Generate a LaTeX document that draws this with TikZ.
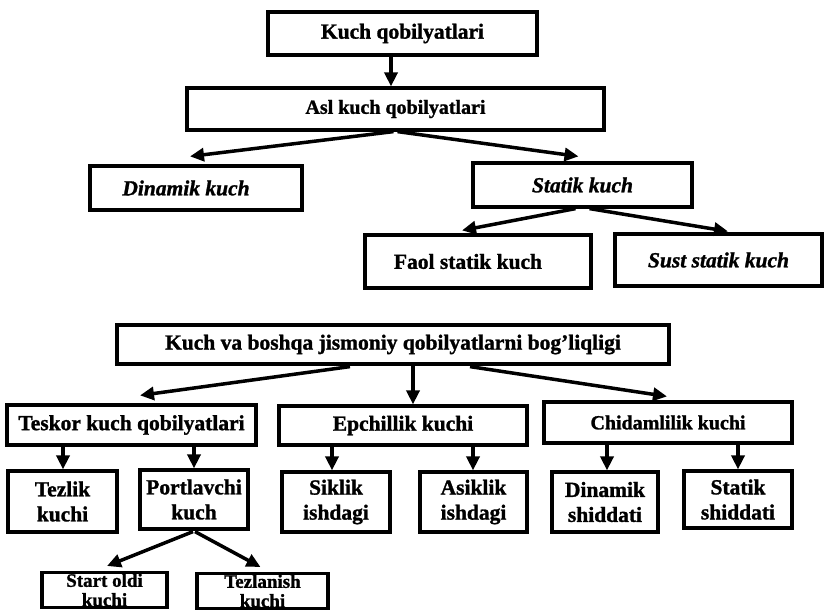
\documentclass[tikz,border=0pt]{standalone}
\usepackage{fontspec}
\setmainfont{Liberation Serif}[BoldFeatures={FakeBold=1.3},BoldItalicFeatures={FakeBold=1.3}]
\usetikzlibrary{arrows.meta,calc}
\tikzset{
  box/.style={draw, line width=3.2pt, inner sep=0pt, align=center,
    font=\fontsize{21.5}{25}\selectfont\bfseries},
  ibox/.style={box, font=\fontsize{21.5}{25}\selectfont\bfseries\itshape},
  dbox/.style={box, anchor=north, inner ysep=1pt, font=\fontsize{19}{19.5}\selectfont\bfseries},
  arr/.style={line width=3.5pt, -{Triangle[length=14pt,width=13pt]}}
}
\begin{document}
\begin{tikzpicture}[x=1pt,y=-1pt]
\useasboundingbox (0,0) rectangle (826,610);
\fill[white] (0,0) rectangle (826,610);
\clip (0,0) rectangle (826,610);
% top section
\node[box, minimum width=269, minimum height=43] (k1) at (402.5,33.5) {Kuch qobilyatlari};
\node[box, minimum width=417, minimum height=42, font=\fontsize{20}{24}\selectfont\bfseries] (k2) at (395.5,109) {Asl kuch qobilyatlari};
\node[ibox, minimum width=212, minimum height=44] (k3) at (196,188) {\hspace*{-20pt}Dinamik kuch};
\node[ibox, minimum width=219, minimum height=44] (k4) at (582.5,185) {Statik kuch};
\node[box, minimum width=226, minimum height=53] (k5) at (478,261.5) {\hspace*{-20pt}Faol statik kuch};
\node[ibox, minimum width=207, minimum height=52] (k6) at (718.5,260) {Sust statik kuch};
% bottom section
\node[box, minimum width=552, minimum height=39] (b1) at (393,344.5) {Kuch va boshqa jismoniy qobilyatlarni bog'liqligi};
\node[box, minimum width=249, minimum height=40] (b2) at (131.5,425) {Teskor kuch qobilyatlari};
\node[box, minimum width=248, minimum height=39] (b3) at (403,425.5) {Epchillik kuchi};
\node[box, minimum width=248, minimum height=41, font=\fontsize{20}{24}\selectfont\bfseries] (b4) at (668,422.5) {Chidamlilik kuchi};
\node[box, minimum width=109, minimum height=61] (c1) at (62.5,501.5) {Tezlik\\kuchi};
\node[box, minimum width=108, minimum height=59] (c2) at (194,499.5) {Portlavchi\\kuch};
\node[box, minimum width=108, minimum height=60] (c3) at (336,502) {Siklik\\ishdagi};
\node[box, minimum width=107, minimum height=60] (c4) at (473.5,502) {Asiklik\\ishdagi};
\node[box, minimum width=106, minimum height=60] (c5) at (605,502) {Dinamik\\shiddati};
\node[box, minimum width=108, minimum height=57] (c6) at (738,499.5) {Statik\\shiddati};
\node[dbox, minimum width=125] (d1) at (104.5,571) {Start oldi\\kuchi};
\node[dbox, minimum width=131] (d2) at (262.5,572) {Tezlanish\\kuchi};
% arrows top
\draw[arr] ($(k1.south)+(-11.5,0)$) -- ($(k2.north)+(-4.5,0)$);
\draw[arr] ($(k2.south)+(-2,0)$) -- ($(k3.north)+(-6,-8)$);
\draw[arr] ($(k2.south)+(2,0)$) -- ($(k4.north)+(-4,-5)$);
\draw[arr] ($(k4.south)+(-7,0)$) -- ($(k5.north)+(-16,-3)$);
\draw[arr] ($(k4.south)+(7,0)$) -- ($(k6.north)+(9.5,-1)$);
% arrows bottom
\draw[arr] ($(b1.south)+(-43,1)$) -- ($(b2.north)+(8.5,-8)$);
\draw[arr] ($(b1.south)+(20,0)$) -- ($(b3.north)+(10,0)$);
\draw[arr] ($(b1.south)+(77,1)$) -- ($(b4.north)+(-1,-4)$);
\draw[arr] ($(b2.south)+(-68.5,0)$) -- ($(c1.north)+(0.5,0)$);
\draw[arr] ($(b2.south)+(62.5,0)$) -- (c2.north);
\draw[arr] ($(b3.south)+(-71,0)$) -- ($(c3.north)+(-4,0)$);
\draw[arr] ($(b3.south)+(70,0)$) -- ($(c4.north)+(-0.5,0)$);
\draw[arr] ($(b4.south)+(-61,0)$) -- ($(c5.north)+(2,0)$);
\draw[arr] ($(b4.south)+(70,0)$) -- (c6.north);
\draw[arr] ($(c2.south)+(-1,1)$) -- ($(d1.north)+(2.5,-5)$);
\draw[arr] ($(c2.south)+(1,1)$) -- ($(d2.north)+(-2,-5)$);
\end{tikzpicture}
\end{document}
